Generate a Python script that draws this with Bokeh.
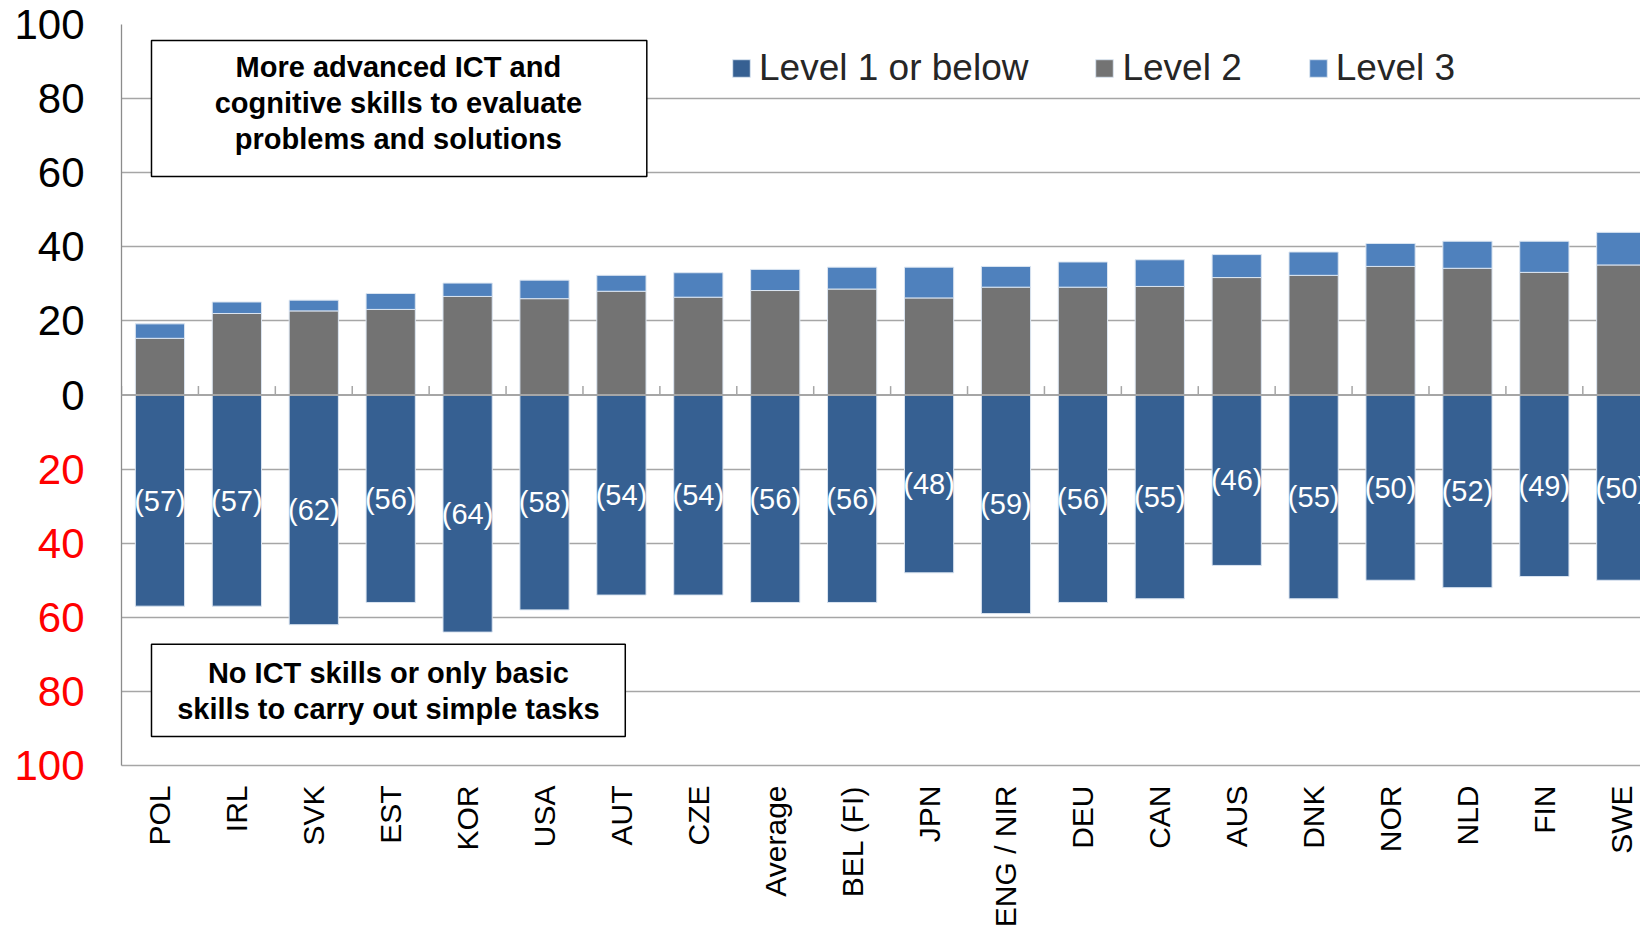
import numpy as np
from bokeh.plotting import figure
from bokeh.models import (Range1d, FixedTicker, Label, BoxAnnotation, Legend,
                          LegendItem, ColumnDataSource, Span, LinearAxis)
from bokeh.core.properties import value
from bokeh.embed import file_html
from bokeh.resources import INLINE

# ---------------- data ----------------
countries = ["POL", "IRL", "SVK", "EST", "KOR", "USA", "AUT", "CZE", "Average",
             "BEL (FI)", "JPN", "ENG / NIR", "DEU", "CAN", "AUS", "DNK", "NOR",
             "NLD", "FIN", "SWE"]
level1 = [57, 57, 62, 56, 64, 58, 54, 54, 56, 56, 48, 59, 56, 55, 46, 55, 50, 52, 49, 50]
level2 = [15.3, 22.0, 22.7, 23.1, 26.6, 26.0, 28.0, 26.4, 28.2, 28.6, 26.2, 29.1,
          29.1, 29.3, 31.7, 32.3, 34.7, 34.2, 33.1, 35.1]
level3 = [3.9, 3.1, 2.9, 4.3, 3.6, 5.0, 4.3, 6.6, 5.7, 5.9, 8.3, 5.6, 6.8, 7.2,
          6.2, 6.3, 6.2, 7.3, 8.4, 8.8]
series_names = ["Level 1 or below", "Level 2", "Level 3"]
y_ticks_pos = [0, 20, 40, 60, 80, 100]
y_ticks_neg = [-20, -40, -60, -80, -100]
box_top_text = "More advanced ICT and\ncognitive skills to evaluate\nproblems and solutions"
box_bottom_text = "No ICT skills or only basic\nskills to carry out simple tasks"

# ---------------- styling ----------------
C1, C2, C3 = "#366092", "#737373", "#4f81bd"
FONT = "Liberation Sans"
GRID = "#a6a6a6"
YFS = 42  # y tick label font size (px)

n = len(countries)
xs = np.arange(n)
l1 = np.array(level1, dtype=float)
l2 = np.array(level2, dtype=float)
l3 = np.array(level3, dtype=float)

src = ColumnDataSource(dict(
    x=xs, neg=-l1, mid=-l1 / 2, lab=["(%d)" % v for v in level1],
    zero=np.zeros(n), l2=l2, l3top=l2 + l3,
))

p = figure(width=1640, height=934,
           x_range=Range1d(-0.5, 19.25), y_range=Range1d(-100, 100),
           output_backend="svg", toolbar_location=None,
           min_border_left=121, min_border_top=24, min_border_bottom=169,
           min_border_right=0)
p.outline_line_color = None
p.background_fill_color = "white"

# grid
p.xgrid.visible = False
p.ygrid[0].ticker = FixedTicker(ticks=y_ticks_neg + y_ticks_pos[1:])
p.ygrid.grid_line_color = GRID
p.ygrid.grid_line_width = 1.3

BW = 0.64
r1 = p.vbar(x="x", top="zero", bottom="neg", width=BW, source=src,
            fill_color=C1, line_color="#dbe5f1", line_width=1)
r2 = p.vbar(x="x", top="l2", bottom="zero", width=BW, source=src,
            fill_color=C2, line_color="#dbe5f1", line_width=1)
r3 = p.vbar(x="x", top="l3top", bottom="l2", width=BW, source=src,
            fill_color=C3, line_color="#dbe5f1", line_width=1)

# zero line with small boundary ticks
p.add_layout(Span(location=0, dimension="width", line_color=GRID, line_width=2.2))
bx = np.arange(-1, n) + 0.5
p.segment(x0=bx, x1=bx, y0=np.zeros(len(bx)), y1=np.full(len(bx), 2.4),
          line_color=GRID, line_width=1.5)

# data labels
p.text(x="x", y="mid", text="lab", source=src, text_color="white",
       text_font=value(FONT), text_font_size="29px",
       text_align="center", text_baseline="middle")

# x axis
xa = p.xaxis[0]
xa.ticker = FixedTicker(ticks=list(xs))
xa.major_label_overrides = {int(i): c for i, c in zip(xs, countries)}
xa.major_label_orientation = np.pi / 2
xa.major_label_text_font = FONT
xa.major_label_text_font_size = "30px"
xa.major_label_text_color = "black"
xa.major_label_standoff = 20
xa.major_tick_line_color = None
xa.minor_tick_line_color = None
xa.major_tick_out = 0
xa.major_tick_in = 0
xa.axis_line_color = GRID
xa.axis_line_width = 1.3

# y axis (black, 0..100)
ya = p.yaxis[0]
ya.ticker = FixedTicker(ticks=y_ticks_pos)
ya.major_label_text_font = FONT
ya.major_label_text_font_size = "%dpx" % YFS
ya.major_label_text_color = "black"
ya.major_label_standoff = 37
ya.major_tick_out = 0
ya.major_tick_in = 0
ya.minor_tick_line_color = None
ya.major_tick_line_color = None
ya.axis_line_color = "#8c8c8c"
ya.axis_line_width = 1.3

# second y axis (red, below zero shown as positive shares); pulled back onto
# the same column as the black labels
w100 = round(3 * 0.556 * YFS) + 3
ya2 = LinearAxis(ticker=FixedTicker(ticks=y_ticks_neg),
                 major_label_overrides={v: str(abs(v)) for v in y_ticks_neg},
                 major_label_text_font=FONT,
                 major_label_text_font_size="%dpx" % YFS,
                 major_label_text_color="red",
                 major_label_standoff=-w100,
                 major_tick_out=0, major_tick_in=0,
                 major_tick_line_color=None, minor_tick_line_color=None,
                 axis_line_color=None)
p.add_layout(ya2, "left")

# annotation boxes
p.add_layout(BoxAnnotation(left=-0.11, right=6.33, top=95.7, bottom=59.0,
                           fill_color="white", fill_alpha=1.0,
                           line_color="black", line_width=1.5, line_alpha=1.0))
p.add_layout(BoxAnnotation(left=-0.11, right=6.05, top=-67.3, bottom=-92.2,
                           fill_color="white", fill_alpha=1.0,
                           line_color="black", line_width=1.5, line_alpha=1.0))
p.add_layout(Label(x=3.10, y=78.8, text=box_top_text, text_font=FONT,
                   text_font_size="29px", text_font_style="bold",
                   text_align="center", text_baseline="middle",
                   text_line_height=1.13, text_color="black"))
p.add_layout(Label(x=2.97, y=-79.8, text=box_bottom_text, text_font=FONT,
                   text_font_size="29px", text_font_style="bold",
                   text_align="center", text_baseline="middle",
                   text_line_height=1.13, text_color="black"))

# legend
legend = Legend(items=[LegendItem(label=series_names[0], renderers=[r1]),
                       LegendItem(label=series_names[1], renderers=[r2]),
                       LegendItem(label=series_names[2], renderers=[r3])],
                orientation="horizontal", location=(609, 676),
                padding=0, margin=0, spacing=65, label_standoff=7,
                glyph_width=22, glyph_height=22,
                label_text_font=FONT, label_text_font_size="37px",
                label_text_color="#262626",
                background_fill_alpha=0, border_line_color=None)
p.add_layout(legend)

open("out.html", "w").write(file_html(p, INLINE))
